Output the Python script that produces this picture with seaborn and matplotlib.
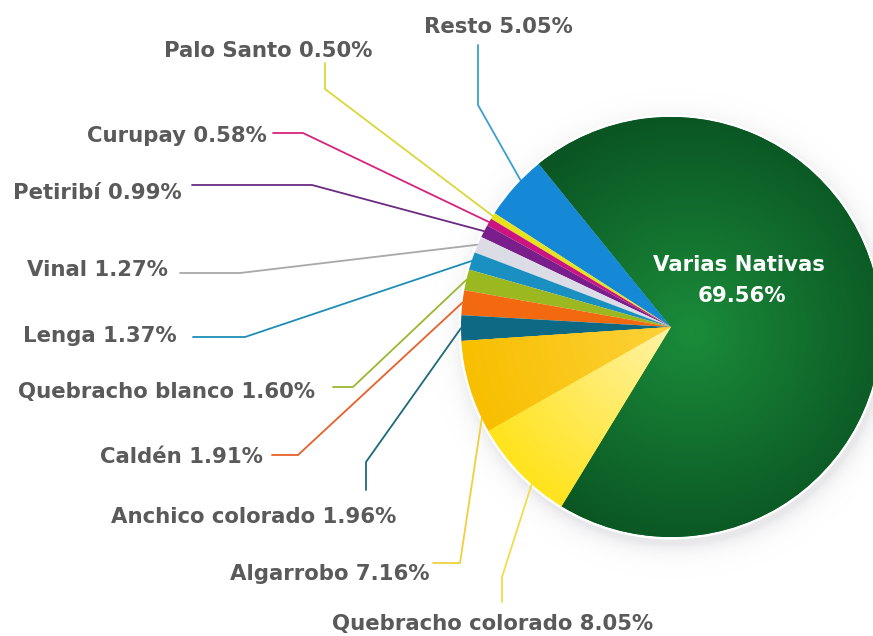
import numpy as np
import matplotlib
matplotlib.use("Agg")
import matplotlib.pyplot as plt
import seaborn as sns
from matplotlib.patches import Circle

# Participación por especie (%)
species = ["Varias Nativas", "Resto", "Palo Santo", "Curupay", "Petiribí", "Vinal",
           "Lenga", "Quebracho blanco", "Caldén", "Anchico colorado", "Algarrobo",
           "Quebracho colorado"]
shares = [69.56, 5.05, 0.50, 0.58, 0.99, 1.27, 1.37, 1.60, 1.91, 1.96, 7.16, 8.05]

wedge_colors = ["#0f6b2c", "#1589d6", "#e6e21c", "#cc1480", "#7a1e8c", "#dcdce6",
                "#1a90c2", "#9cb820", "#f2690f", "#0e6a84", "#fac300", "#ffe52e"]
line_colors = [None, "#3a9fd0", "#d8d83a", "#d6237f", "#6a2b80", "#a8a8a8",
               "#1f8db5", "#9ab830", "#e8602a", "#1d6a7a", "#f0d040", "#f0dc50"]

sns.set_theme(style="white")
plt.rcParams["font.family"] = ["DejaVu Sans"]

W, H = 873, 636


def Y(y):
    """Convert a top-down pixel row to the axes' bottom-up coordinate."""
    return H - y


CX, CY_TOP, R = 671, 327, 210
CY = Y(CY_TOP)

# label layout: text x, baseline, alignment, line start, knee, position along wedge
layout = {
    "Resto":              (498, 33,  "center", (478, 45),  (478, 105), 0.37),
    "Palo Santo":         (268, 57,  "center", (325, 63),  (325, 89),  0.5),
    "Curupay":            (267, 142, "right",  (273, 133), (303, 133), 0.5),
    "Petiribí":           (182, 199, "right",  (192, 185), (312, 185), 0.5),
    "Vinal":              (168, 276, "right",  (180, 273), (240, 273), 0.5),
    "Lenga":              (177, 342, "right",  (193, 337), (245, 337), 0.5),
    "Quebracho blanco":   (315, 398, "right",  (333, 387), (353, 387), 0.5),
    "Caldén":             (263, 463, "right",  (272, 455), (298, 455), 0.5),
    "Anchico colorado":   (254, 523, "center", (366, 490), (366, 462), 0.5),
    "Algarrobo":          (430, 580, "right",  (433, 563), (460, 563), 0.85),
    "Quebracho colorado": (493, 630, "center", (502, 602), (502, 577), 0.65),
}

fig = plt.figure(figsize=(W / 100, H / 100), dpi=100)
ax = fig.add_axes([0, 0, 1, 1])

# soft drop shadow around the disc
yy, xx = np.mgrid[0:H, 0:W] + 0.5
d = np.hypot(xx - (CX + 3), yy - (CY_TOP + 7))
alpha = np.clip(0.20 * np.exp(-np.clip(d - R, 0, None) / 9.0), 0, 1)
shadow = np.zeros((H, W, 4))
shadow[..., :3] = (0.55, 0.55, 0.60)
shadow[..., 3] = alpha
ax.imshow(shadow, extent=(0, W, 0, H), origin="upper", zorder=0.1,
          interpolation="bilinear")
ax.add_patch(Circle((CX, CY), R + 2.5, facecolor="white", edgecolor="none", zorder=0.5))

start = 129 - 360 * shares[0] / 100
wedges, _ = ax.pie(shares, colors=wedge_colors, startangle=start, counterclock=True,
                   center=(CX, CY), radius=R, wedgeprops=dict(linewidth=0),
                   frame=True)
for w in wedges:
    w.set_zorder(1)

# radial shading on the large green wedge and the light-yellow wedge
def radial_fill(wedge, c_in, c_out, gx, gy, scale):
    dd = np.clip(np.hypot(xx - gx, yy - gy) / scale, 0, 1)[..., None]
    a = np.array(matplotlib.colors.to_rgb(c_in))
    b = np.array(matplotlib.colors.to_rgb(c_out))
    img = a * (1 - dd) + b * dd
    im = ax.imshow(img, extent=(0, W, 0, H), origin="upper", zorder=1.2,
                   interpolation="bilinear")
    im.set_clip_path(wedge)

radial_fill(wedges[0], "#1b8c3a", "#0a5523", CX + 20, CY_TOP + 5, R * 1.05)
radial_fill(wedges[11], "#fff3a8", "#ffe31c", CX, CY_TOP, R)
radial_fill(wedges[10], "#fdd23a", "#f8bf00", CX, CY_TOP, R)

# leader lines and labels
for i, name in enumerate(species[1:], start=1):
    tx, ty, ha, p0, pk, frac = layout[name]
    w = wedges[i]
    ang = np.deg2rad(w.theta1 + frac * (w.theta2 - w.theta1))
    ex, ey = CX + R * np.cos(ang), CY + R * np.sin(ang)
    ax.plot([p0[0], pk[0], ex], [Y(p0[1]), Y(pk[1]), ey], color=line_colors[i],
            lw=1.3, solid_joinstyle="miter", zorder=0.8)
    ax.text(tx, Y(ty), f"{name} {shares[i]:.2f}%", ha=ha, va="baseline",
            fontsize=15.3, fontweight="bold", color="#5a5a5a", zorder=3)

ax.text(739, Y(271), species[0], ha="center", va="baseline", fontsize=15.3,
        fontweight="bold", color="white", zorder=3)
ax.text(742, Y(302), f"{shares[0]:.2f}%", ha="center", va="baseline", fontsize=15.3,
        fontweight="bold", color="white", zorder=3)

ax.set_xlim(0, W)
ax.set_ylim(0, H)
ax.set_aspect("equal")
ax.axis("off")
fig.savefig("out.png", dpi=100, facecolor="white")
